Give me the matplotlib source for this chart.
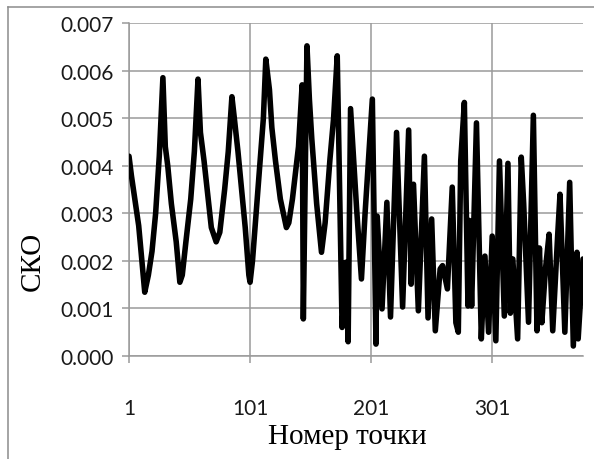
# СКО по номерам точек
import numpy as np
import matplotlib
matplotlib.use('Agg')
import matplotlib.pyplot as plt
from matplotlib.lines import Line2D

# точки ломаной (номер точки, СКО)
point_no = [1, 3, 9, 14, 17, 20, 23, 26, 29, 31, 33, 36, 40, 43, 45, 48, 52, 55, 58,
            60, 63, 66, 69, 73, 76, 80, 83, 86, 88, 91, 94, 97, 100, 101, 103, 106,
            109, 112, 114, 117, 119, 122, 126, 131, 133, 136, 141, 144, 145, 148,
            150, 152, 156, 160, 163, 167, 170, 173, 176, 177, 180, 182, 184, 189,
            193, 196, 202, 205, 206, 210, 214, 217, 222, 227, 232, 234, 236, 240,
            245, 248, 251, 254, 258, 260, 264, 268, 271, 273, 275, 278, 281, 282,
            284, 288, 292, 295, 298, 301, 304, 307, 311, 314, 316, 318, 322, 325,
            327, 331, 335, 338, 340, 342, 345, 348, 351, 355, 357, 361, 365, 368,
            371, 372, 376]
sko = [0.00420, 0.00379, 0.00274, 0.00134, 0.00170, 0.00220, 0.00300, 0.00420,
       0.00585, 0.00440, 0.00400, 0.00320, 0.00240, 0.00155, 0.00170, 0.00240,
       0.00330, 0.00430, 0.00582, 0.00470, 0.00410, 0.00340, 0.00270, 0.00240,
       0.00260, 0.00350, 0.00430, 0.00545, 0.00500, 0.00430, 0.00350, 0.00270,
       0.00170, 0.00155, 0.00200, 0.00300, 0.00400, 0.00500, 0.00624, 0.00560,
       0.00480, 0.00410, 0.00330, 0.00270, 0.00280, 0.00330, 0.00440, 0.00570,
       0.00078, 0.00652, 0.00540, 0.00456, 0.00320, 0.00218, 0.00280, 0.00414,
       0.00500, 0.00631, 0.00204, 0.00060, 0.00197, 0.00030, 0.00520, 0.00310,
       0.00162, 0.00300, 0.00540, 0.00025, 0.00294, 0.00099, 0.00323, 0.00082,
       0.00470, 0.00103, 0.00475, 0.00151, 0.00361, 0.00095, 0.00420, 0.00080,
       0.00288, 0.00053, 0.00183, 0.00190, 0.00141, 0.00355, 0.00070, 0.00050,
       0.00410, 0.00533, 0.00105, 0.00285, 0.00105, 0.00490, 0.00036, 0.00210,
       0.00050, 0.00252, 0.00032, 0.00410, 0.00084, 0.00405, 0.00090, 0.00204,
       0.00036, 0.00418, 0.00320, 0.00071, 0.00506, 0.00053, 0.00227, 0.00070,
       0.00183, 0.00256, 0.00053, 0.00250, 0.00340, 0.00050, 0.00365, 0.00021,
       0.00218, 0.00036, 0.00204]

x_ticks = [1, 101, 201, 301]
y_ticks = [0.000, 0.001, 0.002, 0.003, 0.004, 0.005, 0.006, 0.007]

grid_col = '#9a9a9a'

fig = plt.figure(figsize=(5.94, 4.60), dpi=100)
ax = fig.add_axes([129/594, 1 - 357/460, (583 - 129)/594, (357 - 24)/460])

ax.plot(point_no, sko, color='black', linewidth=4.0,
        solid_joinstyle='round', solid_capstyle='round', zorder=3)

ax.set_xlim(1, 376)
ax.set_ylim(0, 0.007)
ax.set_xticks(x_ticks)
ax.set_yticks(y_ticks)
ax.set_yticklabels(['%.3f' % v for v in y_ticks])

ax.grid(True, color=grid_col, linewidth=1.1)
ax.set_axisbelow(True)
for s in ['top', 'right']:
    ax.spines[s].set_visible(False)
for s in ['left', 'bottom']:
    ax.spines[s].set_color(grid_col)
    ax.spines[s].set_linewidth(1.1)

ax.tick_params(axis='both', direction='out', length=5, width=1.1, color=grid_col,
               labelcolor='#1a1a1a')
ax.tick_params(axis='y', pad=6)
ax.tick_params(axis='x', pad=25)
for lab in ax.get_xticklabels() + ax.get_yticklabels():
    lab.set_family('Lato')
    lab.set_fontsize(15)

fig.text(33/594, 1 - 261/460, 'СКО', rotation=90, ha='center', va='center',
         family='Liberation Serif', fontsize=21)
fig.text(347/594, 1 - 437/460, 'Номер точки', ha='center', va='center',
         family='Liberation Serif', fontsize=21)

# рамка области диаграммы
fig.add_artist(Line2D([8/594, 8/594], [0, 1 - 8/460], color='#8c8c8c', linewidth=1.1))
fig.add_artist(Line2D([8/594, 1], [1 - 8/460, 1 - 8/460], color='#8c8c8c', linewidth=1.1))

fig.savefig('out.png', dpi=100)
